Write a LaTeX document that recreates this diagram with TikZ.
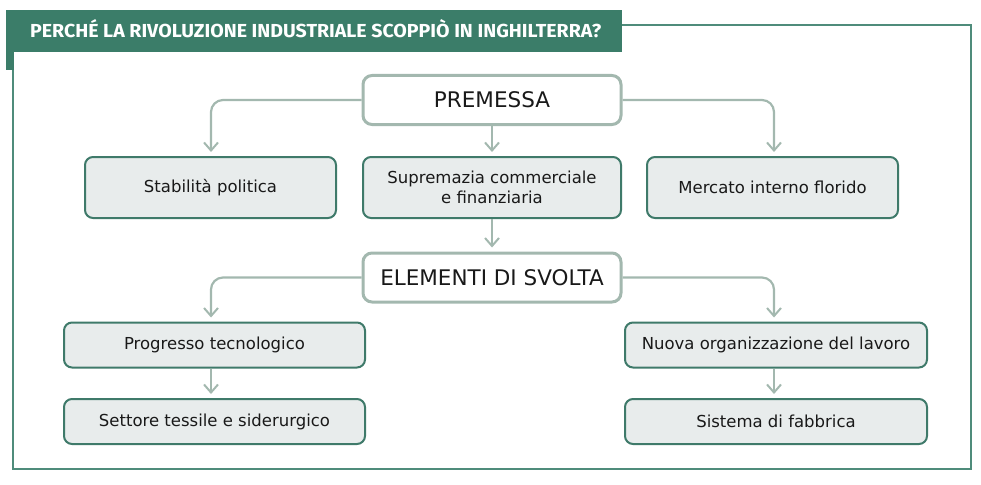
\documentclass[tikz,border=0pt]{standalone}
\usepackage{fontspec}
\setmainfont{DejaVu Sans}
\newfontfamily\titlefont{Fira Sans}
\usetikzlibrary{arrows.meta}
\definecolor{bandgreen}{HTML}{3B7D69}
\definecolor{framegreen}{HTML}{4F8C7B}
\definecolor{boxedge}{HTML}{3F7A6A}
\definecolor{boxfill}{HTML}{E8ECEC}
\definecolor{softline}{HTML}{A3B8AF}
\begin{document}
\begin{tikzpicture}[x=1pt,y=-1pt,
  leaf/.style={draw=boxedge,line width=2pt,fill=boxfill,rounded corners=8pt,
    align=center,inner sep=0pt,font=\fontsize{16.5}{20}\selectfont,text=black!90},
  head/.style={draw=softline,line width=3pt,fill=white,rounded corners=9pt,
    minimum width=258pt,minimum height=49pt,inner sep=0pt,
    font=\fontsize{21.5}{25}\selectfont,text=black!90},
  conn/.style={draw=softline,line width=2.2pt,rounded corners=12pt,
    -{Straight Barb[length=8pt,width=14pt,line width=2pt]},shorten >=4pt}]
\useasboundingbox (0,0) rectangle (981,484);
% frame and banner
\draw[framegreen,line width=2pt] (618,25) -- (971,25) -- (971,469) -- (13,469) -- (13,50);
\fill[bandgreen] (6,10) rectangle (622,52);
\fill[bandgreen] (6,10) rectangle (14,70);
\node[anchor=base west,text=white,inner sep=0pt] (title) at (30,37.5)
  {\resizebox{571pt}{18pt}{\titlefont\bfseries PERCHÉ LA RIVOLUZIONE INDUSTRIALE SCOPPIÒ IN INGHILTERRA?}};
% nodes
\node[head] (prem) at (492,100) {PREMESSA};
\node[leaf,minimum width=251pt,minimum height=61pt] (stab) at (210.5,187.5) {Stabilità politica};
\node[leaf,minimum width=258pt,minimum height=61pt] (supr) at (492,187.5) {Supremazia commerciale\\e finanziaria};
\node[leaf,minimum width=251pt,minimum height=61pt] (merc) at (772.5,187.5) {Mercato interno florido};
\node[head] (elem) at (492,277.5) {ELEMENTI DI SVOLTA};
\node[leaf,minimum width=301pt,minimum height=45pt] (prog) at (214.5,345) {Progresso tecnologico};
\node[leaf,minimum width=301pt,minimum height=45pt] (sett) at (214.5,421.5) {Settore tessile e siderurgico};
\node[leaf,minimum width=302pt,minimum height=45pt] (nuov) at (776,345) {Nuova organizzazione del lavoro};
\node[leaf,minimum width=302pt,minimum height=45pt] (sist) at (776,421.5) {Sistema di fabbrica};
\coordinate (lx) at (211,0);
\coordinate (rx) at (774,0);
% connectors
\draw[conn] (prem.west) -| (lx |- stab.north);
\draw[conn] (prem.east) -| (rx |- merc.north);
\draw[conn] (prem.south) -- (supr.north);
\draw[conn] (supr.south) -- (elem.north);
\draw[conn] (elem.west) -| (lx |- prog.north);
\draw[conn] (elem.east) -| (rx |- nuov.north);
\draw[conn] (lx |- prog.south) -- (lx |- sett.north);
\draw[conn] (rx |- nuov.south) -- (rx |- sist.north);
\end{tikzpicture}
\end{document}
